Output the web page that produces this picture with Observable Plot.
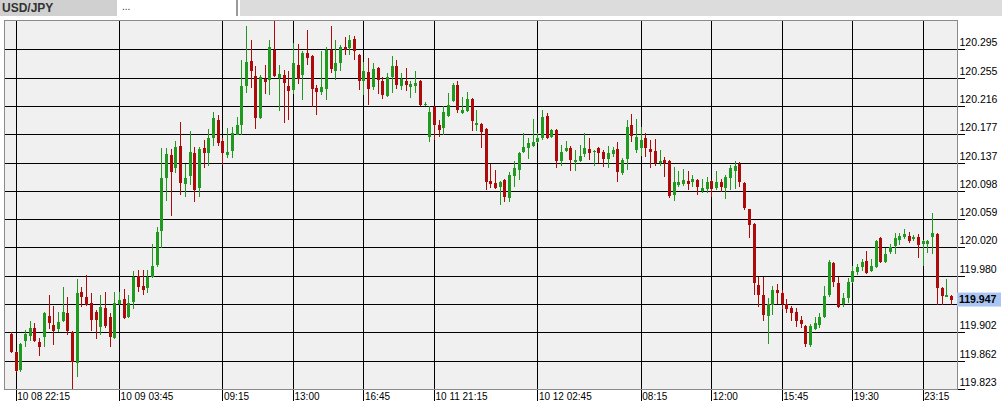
<!DOCTYPE html>
<html><head><meta charset="utf-8">
<script src="https://cdn.jsdelivr.net/npm/d3@7"></script>
<script src="https://cdn.jsdelivr.net/npm/@observablehq/plot@0.6"></script>
<style>
html,body{margin:0;padding:0;background:#fff;width:1002px;height:412px;overflow:hidden;font-family:"Liberation Sans",Arial,sans-serif}
#hdr{position:relative;height:18px;width:1002px;background:#fff}
#tab{position:absolute;left:0;top:0;width:117px;height:16px;background:#d0d0d0;font-weight:bold;font-size:12px;color:#333;line-height:16px;padding-left:2px;box-sizing:border-box}
#box{position:absolute;left:119px;top:0;width:119px;height:16px;background:#fff;border-right:2px solid #9a9a9a;box-sizing:border-box;font-size:10px;line-height:14px;padding-left:3px;color:#333}
#rest{position:absolute;left:240px;top:0;right:0;height:16px;background:#dcdcdc}
#chart svg{display:block}
</style></head>
<body>
<div id="hdr"><div id="tab">USD/JPY</div><div id="box">...</div><div id="rest"></div></div>
<div id="chart"></div>
<script>
const opens = [119.899,119.874,119.849,119.890,119.897,119.908,119.888,119.895,119.924,119.912,
119.906,119.917,119.928,119.902,119.859,119.958,119.951,119.942,119.930,119.909,
119.935,119.923,119.894,119.941,119.948,119.923,119.944,119.980,119.966,119.963,
119.979,119.995,120.042,120.116,120.148,120.130,120.160,120.108,120.119,120.151,
120.102,120.158,120.151,120.171,120.196,120.167,120.148,120.153,120.176,120.189,
120.244,120.278,120.258,120.199,120.253,120.252,120.294,120.255,120.259,120.244,
120.238,120.273,120.259,120.289,120.285,120.241,120.235,120.239,120.294,120.264,
120.276,120.298,120.296,120.309,120.287,120.251,120.263,120.242,120.269,120.251,
120.230,120.256,120.271,120.244,120.251,120.242,120.244,120.251,120.217,120.173,
120.214,120.189,120.185,120.202,120.223,120.245,120.206,120.209,120.226,120.189,
120.191,120.184,120.112,120.109,120.103,120.113,120.088,120.119,120.127,120.152,
120.158,120.160,120.166,120.171,120.202,120.173,120.183,120.140,120.153,120.158,
120.138,120.140,120.149,120.156,120.152,120.158,120.152,120.142,120.149,120.156,
120.123,120.142,120.189,120.155,120.158,120.171,120.156,120.153,120.137,120.141,
120.140,120.092,120.106,120.108,120.112,120.110,120.113,120.098,120.101,120.112,
120.102,120.110,120.102,120.116,120.126,120.135,120.109,120.073,120.052,119.967,
119.953,119.924,119.940,119.960,119.956,119.941,119.935,119.930,119.919,119.910,
119.884,119.906,119.912,119.923,119.953,119.998,119.970,119.941,119.949,119.972,
119.985,119.992,120.001,119.987,119.992,120.033,119.999,120.013,120.021,120.030,
120.034,120.035,120.031,120.034,120.024,120.024,120.034,120.038,119.963,119.951,
119.952];
const highs = [119.902,119.876,119.887,119.905,119.917,119.915,119.894,119.930,119.953,119.938,
119.930,119.965,119.951,119.903,119.976,119.965,119.981,119.956,119.933,119.953,
119.958,119.928,119.958,119.958,119.962,119.953,119.987,119.988,119.988,119.988,
120.024,120.048,120.158,120.158,120.156,120.167,120.194,120.135,120.181,120.159,
120.159,120.169,120.184,120.208,120.203,120.171,120.185,120.187,120.201,120.280,
120.327,120.308,120.271,120.259,120.273,120.308,120.335,120.273,120.266,120.264,
120.303,120.302,120.292,120.321,120.287,120.245,120.292,120.298,120.327,120.308,
120.301,120.312,120.314,120.313,120.288,120.277,120.283,120.276,120.270,120.256,
120.262,120.285,120.280,120.262,120.269,120.251,120.264,120.252,120.221,120.216,
120.216,120.196,120.216,120.234,120.248,120.251,120.228,120.235,120.227,120.210,
120.192,120.185,120.135,120.127,120.112,120.115,120.124,120.140,120.152,120.178,
120.171,120.198,120.178,120.210,120.206,120.184,120.184,120.162,120.167,120.160,
120.155,120.162,120.178,120.171,120.154,120.159,120.155,120.160,120.159,120.166,
120.144,120.196,120.205,120.198,120.187,120.178,120.169,120.170,120.154,120.145,
120.141,120.131,120.126,120.128,120.126,120.120,120.115,120.115,120.117,120.113,
120.126,120.115,120.120,120.134,120.140,120.138,120.110,120.073,120.053,119.979,
119.979,119.949,119.966,119.969,119.960,119.948,119.938,119.935,119.924,119.912,
119.913,119.923,119.928,119.966,120.002,119.999,119.979,119.956,119.977,119.994,
119.997,120.003,120.015,120.003,120.030,120.034,120.019,120.024,120.040,120.040,
120.045,120.041,120.037,120.038,120.030,120.030,120.067,120.040,119.965,119.976,
119.953];
const lows = [119.873,119.847,119.847,119.881,119.890,119.888,119.869,119.881,119.906,119.884,
119.902,119.916,119.898,119.823,119.840,119.937,119.938,119.903,119.892,119.898,
119.908,119.881,119.892,119.940,119.920,119.922,119.934,119.958,119.953,119.956,
119.977,119.992,120.019,120.084,120.063,120.123,120.092,120.090,120.106,120.083,
120.090,120.130,120.133,120.160,120.160,120.134,120.144,120.144,120.175,120.176,
120.234,120.241,120.184,120.198,120.233,120.231,120.256,120.209,120.192,120.196,
120.233,120.246,120.224,120.273,120.214,120.203,120.231,120.224,120.262,120.252,
120.264,120.287,120.287,120.280,120.238,120.231,120.217,120.238,120.233,120.226,
120.228,120.234,120.239,120.238,120.237,120.227,120.234,120.216,120.216,120.166,
120.169,120.173,120.176,120.201,120.221,120.206,120.205,120.208,120.181,120.181,
120.158,120.099,120.102,120.101,120.078,120.083,120.083,120.103,120.113,120.151,
120.142,120.159,120.165,120.169,120.170,120.171,120.130,120.133,120.152,120.126,
120.126,120.138,120.145,120.141,120.133,120.137,120.131,120.130,120.145,120.110,
120.120,120.127,120.166,120.151,120.147,120.145,120.130,120.133,120.132,120.117,
120.088,120.084,120.103,120.105,120.099,120.103,120.092,120.095,120.095,120.090,
120.099,120.096,120.087,120.099,120.101,120.103,120.071,120.033,119.953,119.937,
119.917,119.885,119.926,119.941,119.934,119.928,119.917,119.909,119.908,119.881,
119.881,119.905,119.908,119.922,119.951,119.965,119.935,119.937,119.942,119.970,
119.981,119.987,119.983,119.985,119.991,119.998,119.998,120.010,120.010,120.023,
120.031,120.026,120.028,120.005,119.994,120.012,120.010,119.940,119.940,119.950,
119.940];
const closes = [119.874,119.848,119.885,119.899,119.908,119.890,119.881,119.928,119.915,119.903,
119.916,119.930,119.903,119.860,119.956,119.951,119.940,119.919,119.919,119.937,
119.910,119.895,119.942,119.946,119.922,119.942,119.979,119.965,119.960,119.979,
119.994,120.041,120.116,120.149,120.124,120.159,120.109,120.116,120.152,120.099,
120.156,120.151,120.171,120.199,120.165,120.151,120.152,120.178,120.189,120.244,
120.277,120.264,120.199,120.256,120.249,120.298,120.258,120.260,120.248,120.237,
120.276,120.253,120.289,120.283,120.239,120.235,120.242,120.294,120.267,120.276,
120.298,120.294,120.308,120.292,120.251,120.264,120.239,120.267,120.252,120.231,
120.256,120.271,120.245,120.253,120.245,120.246,120.248,120.217,120.219,120.208,
120.189,120.183,120.208,120.217,120.245,120.210,120.210,120.226,120.195,120.192,
120.180,120.110,120.108,120.102,120.110,120.090,120.120,120.130,120.151,120.159,
120.165,120.166,120.171,120.201,120.171,120.183,120.140,120.152,120.158,120.141,
120.141,120.147,120.158,120.151,120.153,120.151,120.142,120.151,120.155,120.124,
120.141,120.187,120.174,120.173,120.169,120.158,120.152,120.137,120.140,120.137,
120.091,120.110,120.110,120.113,120.108,120.115,120.103,120.102,120.110,120.101,
120.110,120.103,120.117,120.130,120.133,120.110,120.074,120.051,119.970,119.953,
119.926,119.941,119.960,119.956,119.941,119.934,119.928,119.917,119.913,119.885,
119.910,119.915,119.923,119.952,119.999,119.972,119.937,119.949,119.972,119.987,
119.992,119.999,119.984,119.994,120.028,119.999,120.010,120.020,120.033,120.035,
120.038,120.028,120.034,120.023,120.028,120.028,120.040,119.963,119.952,119.953,
119.947];

const xTickIndex  = [1, 23, 45, 60, 75, 90, 112, 134, 149, 164, 179, 194];
const xTickLabels = ["10 08 22:15","10 09 03:45","09:15","13:00","16:45","10 11 21:15","10 12 02:45","08:15","12:00","15:45","19:30","23:15"];
const yTickValues = [120.295,120.255,120.216,120.177,120.137,120.098,120.059,120.020,119.980,119.941,119.902,119.862,119.823];
const yTickLabels = ["120.295","120.255","120.216","120.177","120.137","120.098","120.059","120.020","119.980","","119.902","119.862","119.823"];

const UP = "#1f9a1f", DOWN = "#ad0a0a";
const data = opens.map((o, i) => ({i, open: o, high: highs[i], low: lows[i], close: closes[i], up: closes[i] >= o}));
const xLab = new Map(xTickIndex.map((v, k) => [v, xTickLabels[k]]));
const yLab = new Map(yTickValues.map((v, k) => [v, yTickLabels[k]]));
const FONT = "Liberation Sans, Arial, sans-serif";

const chart = Plot.plot({
  width: 1002, height: 394,
  marginTop: 2, marginBottom: 23, marginLeft: 4, marginRight: 45,
  style: {background: "transparent", fontFamily: FONT, fontSize: "10px", color: "#000", overflow: "visible"},
  x: {type: "linear", domain: [-1.489, 201.28], label: null, axis: null},
  y: {domain: [119.8228, 120.3352], label: null, axis: null},
  marks: [
    Plot.frame({fill: "#f0f0f0", stroke: null}),
    Plot.ruleY(yTickValues, {stroke: "#000", strokeWidth: 1, insetRight: -8, shapeRendering: "crispEdges"}),
    Plot.ruleX(xTickIndex, {stroke: "#000", strokeWidth: 1, insetBottom: -12, shapeRendering: "crispEdges"}),
    Plot.ruleX(data, {x: "i", y1: "low", y2: "high", stroke: d => d.up ? UP : DOWN, strokeWidth: 1, shapeRendering: "crispEdges"}),
    Plot.ruleX(data, {x: "i", y1: "open", y2: "close", stroke: d => d.up ? UP : DOWN, strokeWidth: 3, shapeRendering: "crispEdges"}),
    Plot.frame({stroke: "#8a8a8a", strokeWidth: 1}),
    Plot.text(yTickValues, {y: d => d, text: d => yLab.get(d), frameAnchor: "right", textAnchor: "start", dx: 2, dy: -7, fontSize: 10.5, fill: "#000"}),
    Plot.text(xTickIndex, {x: d => d, text: d => xLab.get(d), frameAnchor: "bottom", textAnchor: "start", lineAnchor: "top", dx: 1, dy: 3, fontSize: 10, fill: "#000"})
  ]
});
document.getElementById("chart").appendChild(chart);

// current price marker on the price scale
const ys = chart.scale("y");
const last = closes[closes.length - 1];
const yy = ys.apply(last);
const svg = d3.select(chart);
svg.append("rect").attr("x", 957).attr("y", yy - 7).attr("width", 44).attr("height", 14).attr("fill", "#a9c5f2");
svg.append("text").attr("x", 959).attr("y", yy).attr("dy", "0.35em").attr("text-anchor", "start").attr("font-size", 10.5)
  .attr("font-weight", "bold").attr("font-family", FONT).attr("fill", "#000").text(last.toFixed(3));
</script></body></html>
